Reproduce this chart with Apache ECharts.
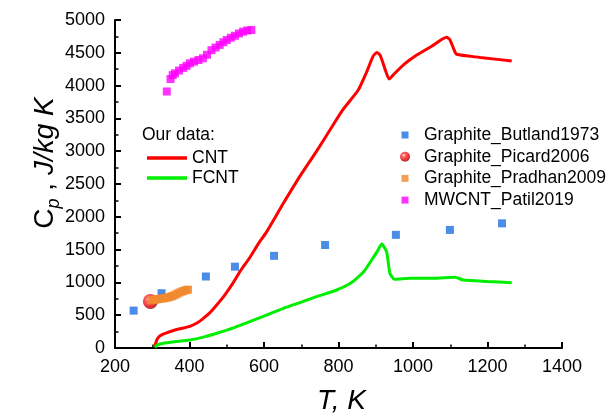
<!DOCTYPE html>
<html>
<head>
<meta charset="utf-8">
<script src="https://cdn.jsdelivr.net/npm/echarts@6/dist/echarts.min.js"></script>
<style>html,body{margin:0;padding:0;background:#fff}#c{width:611px;height:414px}</style>
</head>
<body>
<div id="c"></div>
<script>
var xTicks = [200, 400, 600, 800, 1000, 1200, 1400];
var yTicks = [0, 500, 1000, 1500, 2000, 2500, 3000, 3500, 4000, 4500, 5000];

var butland = [[250,570],[325,835],[444,1090],[522,1240],[627,1405],[764,1570],[954,1725],[1099,1800],[1239,1900]];
var picard = [[295,710]];
var pradhan = [[297,725],[303,735],[308,738],[313,742],[318,748],[323,752],[328,756],[333,760],[338,765],[343,772],[348,780],[353,790],[358,800],[363,815],[368,830],[373,845],[378,858],[383,868],[388,878],[393,885],[396,890]];
var patil = [[339,3910],[349,4100],[355,4160],[361,4187],[372,4230],[383,4270],[392,4300],[401,4340],[412,4365],[424,4390],[436,4416],[447,4470],[459,4540],[470,4580],[481,4620],[491,4660],[500,4695],[511,4730],[522,4760],[533,4795],[544,4823],[555,4840],[566,4848]];
var cnt = [[307,20],[312,120],[318,170],[325,200],[340,235],[361,274],[380,300],[401,330],[420,380],[437,452],[455,540],[473,655],[495,810],[518,1000],[536,1170],[562,1380],[585,1590],[607,1770],[652,2205],[700,2650],[740,2990],[777,3323],[810,3620],[853,3933],[875,4200],[893,4450],[903,4505],[912,4460],[925,4250],[936,4100],[950,4180],[975,4320],[1010,4466],[1050,4600],[1090,4736],[1099,4700],[1110,4550],[1117,4477],[1180,4430],[1265,4375]];
var fcnt = [[307,10],[315,50],[330,72],[360,95],[401,122],[440,170],[473,224],[520,310],[562,401],[610,510],[652,605],[700,700],[741,782],[795,884],[830,980],[849,1062],[870,1180],[889,1341],[905,1480],[916,1585],[929,1468],[938,1138],[947,1060],[952,1047],[992,1062],[1054,1062],[1113,1077],[1135,1037],[1200,1015],[1265,996]];

var FF = '"Liberation Sans", Arial, sans-serif';
var chart = echarts.init(document.getElementById('c'), null, {renderer: 'canvas'});

var sphere = {type:'radial', x:0.38, y:0.35, r:0.7, colorStops:[{offset:0,color:'#ffffff'},{offset:0.25,color:'#ff4040'},{offset:0.7,color:'#e00000'},{offset:1,color:'#900000'}]};
var sq = 'path://M0,0M10,10M1.5,1.5h7v7h-7z';

function axisCommon() {
  return {
    axisLine: {show:true, onZero:false, lineStyle:{color:'#000', width:2}},
    axisTick: {show:true, inside:true, length:6, lineStyle:{color:'#000', width:2}},
    minorTick: {show:true, splitNumber:2, length:3.5, lineStyle:{color:'#000', width:1.5}},
    splitLine: {show:false},
    axisLabel: {color:'#000', fontSize:18, fontFamily:FF, margin:10, formatter: function (v) { return String(v); }}
  };
}
var xa = axisCommon();
xa.type = 'value'; xa.min = xTicks[0]; xa.max = xTicks[xTicks.length-1]; xa.interval = xTicks[1]-xTicks[0];
var ya = axisCommon();
ya.type = 'value'; ya.min = yTicks[0]; ya.max = yTicks[yTicks.length-1]; ya.interval = yTicks[1]-yTicks[0];

chart.setOption({
  animation: false,
  backgroundColor: '#fff',
  grid: {left:115, right:49, top:20, bottom:66, containLabel:false},
  xAxis: xa,
  yAxis: ya,
  legend: [
    {
      data: [{name:'CNT', icon:'rect'},{name:'FCNT', icon:'rect'}], orient:'vertical', left:142, top:143,
      itemWidth:40, itemHeight:3.5, itemGap:0, selectedMode:false,
      textStyle:{fontSize:17.5, fontFamily:FF, color:'#000', lineHeight:20}
    },
    {
      data: [
        {name:'Graphite_Butland1973', icon: sq},
        {name:'Graphite_Picard2006', icon:'circle'},
        {name:'Graphite_Pradhan2009', icon: sq},
        {name:'MWCNT_Patil2019', icon: sq}
      ],
      orient:'vertical', left:395, top:120,
      itemWidth:10, itemHeight:10, itemGap:1.7, selectedMode:false,
      textStyle:{fontSize:17.5, fontFamily:FF, color:'#000', lineHeight:20, padding:[0,0,0,9]}
    }
  ],
  graphic: [
    {type:'text', left:142, top:126, style:{text:'Our data:', fontSize:17.5, fontFamily:FF, fill:'#000'}},
    {type:'text', x:341.5, y:401, style:{text:'T, K', fontSize:28, fontStyle:'italic', fontFamily:FF, fill:'#000', align:'center', verticalAlign:'middle'}},
    {type:'text', x:45, y:163, rotation:Math.PI/2, style:{
      text:'{c|C}{s|p}{n| , }{i|J/kg K}', align:'center', verticalAlign:'middle', fill:'#000',
      rich:{
        c:{fontSize:28, fontFamily:FF, lineHeight:36, verticalAlign:'middle'},
        s:{fontSize:18, fontFamily:FF, fontStyle:'italic', lineHeight:36, verticalAlign:'bottom'},
        n:{fontSize:28, fontFamily:FF, lineHeight:36, verticalAlign:'middle'},
        i:{fontSize:28, fontFamily:FF, fontStyle:'italic', lineHeight:36, verticalAlign:'middle'}
      }}}
  ],
  series: [
    {name:'Graphite_Butland1973', type:'scatter', data:butland, symbol:'rect', symbolSize:8, itemStyle:{color:'#1e6fe0'}},
    {name:'Graphite_Picard2006', type:'scatter', data:picard, symbol:'circle', symbolSize:15, itemStyle:{color:sphere}},
    {name:'Graphite_Pradhan2009', type:'scatter', data:pradhan, symbol:'rect', symbolSize:8, itemStyle:{color:'#f08a30'}},
    {name:'MWCNT_Patil2019', type:'scatter', data:patil, symbol:'rect', symbolSize:8, itemStyle:{color:'#ff00ff'}},
    {name:'CNT', type:'line', data:cnt, symbol:'none', smooth:0.2, lineStyle:{color:'#ff0000', width:3}, itemStyle:{color:'#ff0000'}},
    {name:'FCNT', type:'line', data:fcnt, symbol:'none', smooth:0.2, lineStyle:{color:'#00ee00', width:3}, itemStyle:{color:'#00ee00'}}
  ]
});
</script>
</body>
</html>
